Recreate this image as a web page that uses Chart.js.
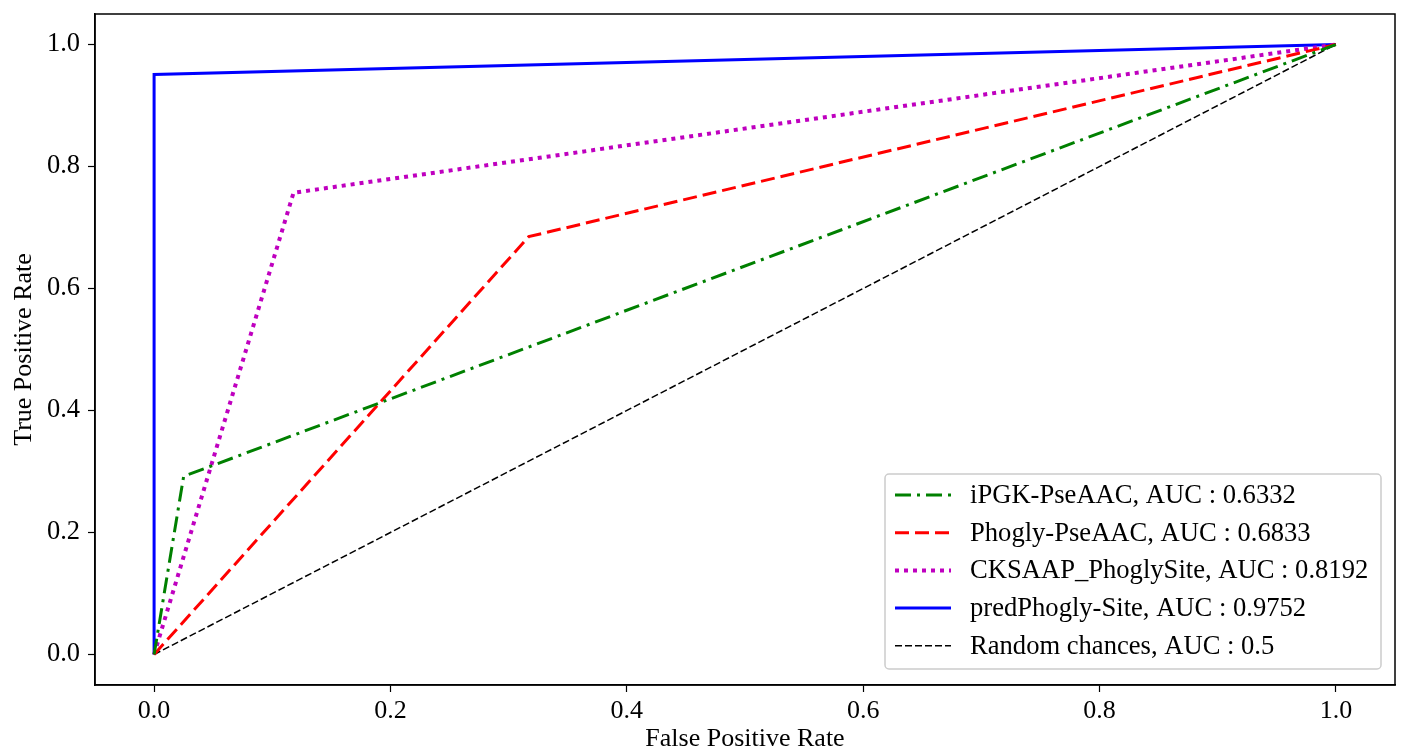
<!DOCTYPE html>
<html>
<head>
<meta charset="utf-8">
<script src="https://cdn.jsdelivr.net/npm/chart.js@4/dist/chart.umd.min.js"></script>
<style>
  html, body { margin: 0; padding: 0; background: #fff; }
  #wrap { width: 1401px; height: 755px; }
</style>
</head>
<body>
<div id="wrap"><canvas id="roc" width="1401" height="755"></canvas></div>
<script>
// ROC points
const ipgkFpr   = [0, 0.025, 1];
const ipgkTpr   = [0, 0.292, 1];
const phoglyFpr = [0, 0.317, 1];
const phoglyTpr = [0, 0.685, 1];
const cksaapFpr = [0, 0.118, 1];
const cksaapTpr = [0, 0.757, 1];
const predFpr   = [0, 0, 1];
const predTpr   = [0, 0.951, 1];
const randFpr   = [0, 1];
const randTpr   = [0, 1];

const seriesNames = [
  'iPGK-PseAAC, AUC : 0.6332',
  'Phogly-PseAAC, AUC : 0.6833',
  'CKSAAP_PhoglySite, AUC : 0.8192',
  'predPhogly-Site, AUC : 0.9752',
  'Random chances, AUC : 0.5'
];
const tickVals = [0, 0.2, 0.4, 0.6, 0.8, 1.0];

const pts = (xs, ys) => xs.map((x, i) => ({ x: x, y: ys[i] }));

const styles = [
  { color: '#008000', width: 3, dash: [16, 6, 3, 6] },
  { color: '#ff0000', width: 3, dash: [14, 6] },
  { color: '#bf00bf', width: 4, dash: [4, 5] },
  { color: '#0000ff', width: 3, dash: [] },
  { color: '#000000', width: 1.5, dash: [7, 3] }
];

const sets = [
  pts(ipgkFpr, ipgkTpr),
  pts(phoglyFpr, phoglyTpr),
  pts(cksaapFpr, cksaapTpr),
  pts(predFpr, predTpr),
  pts(randFpr, randTpr)
];

const datasets = sets.map((d, i) => ({
  label: seriesNames[i],
  data: d,
  showLine: true,
  borderColor: styles[i].color,
  borderWidth: styles[i].width,
  borderDash: styles[i].dash,
  pointRadius: 0,
  fill: false,
  tension: 0,
  order: i
}));

const serif = '"Liberation Serif", "Times New Roman", serif';

const framePlugin = {
  id: 'frame',
  afterDraw(chart) {
    const { ctx, chartArea: a } = chart;
    ctx.save();
    ctx.strokeStyle = '#000';
    ctx.lineWidth = 1.5;
    ctx.strokeRect(a.left, a.top, a.right - a.left, a.bottom - a.top);

    // legend box, lower right inside the axes
    const bw = 496, bh = 195, rowH = 37.7;
    const bx = a.right - 14 - bw;
    const by = a.bottom - 16 - bh;
    ctx.fillStyle = 'rgba(255,255,255,0.85)';
    ctx.strokeStyle = '#cccccc';
    ctx.lineWidth = 1.5;
    ctx.beginPath();
    ctx.roundRect(bx, by, bw, bh, 4);
    ctx.fill();
    ctx.stroke();
    ctx.font = '26.6px ' + serif;
    ctx.textBaseline = 'middle';
    seriesNames.forEach((name, i) => {
      const y = by + 21 + rowH * i;
      ctx.strokeStyle = styles[i].color;
      ctx.lineWidth = styles[i].width;
      ctx.setLineDash(styles[i].dash);
      ctx.beginPath();
      ctx.moveTo(bx + 10, y);
      ctx.lineTo(bx + 66, y);
      ctx.stroke();
      ctx.setLineDash([]);
      ctx.fillStyle = '#000';
      ctx.fillText(name, bx + 85, y + 1);
    });
    ctx.restore();
  }
};

new Chart(document.getElementById('roc'), {
  type: 'scatter',
  data: { datasets: datasets },
  options: {
    responsive: false,
    animation: false,
    layout: { padding: { top: 14, right: 6, left: 0, bottom: 0 } },
    plugins: { legend: { display: false }, tooltip: { enabled: false } },
    scales: {
      x: {
        type: 'linear',
        min: -0.05,
        max: 1.05,
        afterBuildTicks: s => { s.ticks = tickVals.map(v => ({ value: v })); },
        afterFit: s => { s.height = 70; s.paddingLeft = 0; s.paddingRight = 0; },
        grid: { drawOnChartArea: false, drawTicks: true, tickLength: 7, tickColor: '#000', tickWidth: 1.2 },
        border: { display: true, color: '#000', width: 1.5 },
        ticks: {
          color: '#000',
          font: { family: serif, size: 26 },
          padding: 4,
          maxRotation: 0,
          callback: v => v.toFixed(1)
        },
        title: {
          display: true,
          text: 'False Positive Rate',
          color: '#000',
          font: { family: serif, size: 26 },
          padding: { top: 0, bottom: 0 }
        }
      },
      y: {
        type: 'linear',
        min: -0.05,
        max: 1.05,
        afterBuildTicks: s => { s.ticks = tickVals.map(v => ({ value: v })); },
        afterFit: s => { s.width = 95; s.paddingTop = 0; s.paddingBottom = 0; },
        grid: { drawOnChartArea: false, drawTicks: true, tickLength: 7, tickColor: '#000', tickWidth: 1.2 },
        border: { display: true, color: '#000', width: 1.5 },
        ticks: {
          color: '#000',
          font: { family: serif, size: 26.5 },
          padding: 8,
          callback: v => v.toFixed(1)
        },
        title: {
          display: true,
          text: 'True Positive Rate',
          color: '#000',
          font: { family: serif, size: 26 },
          padding: { top: 9, bottom: 0 }
        }
      }
    }
  },
  plugins: [framePlugin]
});
</script>
</body>
</html>
